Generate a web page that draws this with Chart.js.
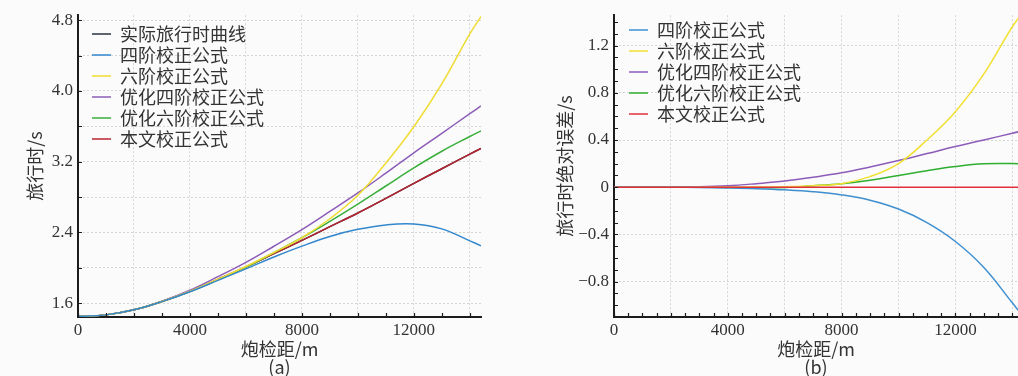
<!DOCTYPE html>
<html>
<head>
<meta charset="utf-8">
<script src="https://cdn.jsdelivr.net/npm/chart.js@4"></script>
<style>
  body { margin: 0; background: #fbfbfb; width: 1018px; height: 376px; overflow: hidden; position: relative; }
  .box { position: absolute; top: 0; height: 376px; }
</style>
</head>
<body>
<div class="box" style="left:0;width:490px"><canvas id="chartA"></canvas></div>
<div class="box" style="left:545px;width:473px"><canvas id="chartB"></canvas></div>
<script>
// offset (m) of the sampled points
const offsets = [0, 1000, 2000, 3000, 4000, 5000, 6000, 7000, 8000, 9000, 10000, 11000, 12000, 13000, 14000, 14400];

// (a) travel time, s
const actualTime    = [1.45, 1.468, 1.525, 1.62, 1.735, 1.87, 2.01, 2.16, 2.31, 2.465, 2.62, 2.785, 2.955, 3.12, 3.285, 3.35];
const fourthTime    = [1.45, 1.468, 1.525, 1.618, 1.729, 1.858, 1.988, 2.122, 2.245, 2.355, 2.435, 2.485, 2.495, 2.44, 2.305, 2.25];
const sixthTime     = [1.45, 1.468, 1.525, 1.62, 1.735, 1.871, 2.015, 2.173, 2.34, 2.555, 2.82, 3.185, 3.595, 4.08, 4.645, 4.84];
const optFourthTime = [1.45, 1.468, 1.525, 1.623, 1.747, 1.90, 2.062, 2.244, 2.432, 2.637, 2.846, 3.07, 3.30, 3.52, 3.743, 3.83];
const optSixthTime  = [1.45, 1.468, 1.525, 1.62, 1.733, 1.866, 2.008, 2.172, 2.34, 2.525, 2.72, 2.925, 3.13, 3.318, 3.485, 3.549];
const thisTime      = [1.45, 1.468, 1.525, 1.62, 1.735, 1.87, 2.01, 2.16, 2.31, 2.465, 2.62, 2.785, 2.955, 3.12, 3.285, 3.35];

// (b) absolute travel time error, s
const fourthErr    = [0, 0, 0, -0.002, -0.006, -0.012, -0.022, -0.038, -0.065, -0.11, -0.185, -0.30, -0.46, -0.68, -0.98, -1.10];
const sixthErr     = [0, 0, 0, 0, 0, 0.001, 0.005, 0.013, 0.03, 0.09, 0.20, 0.40, 0.64, 0.96, 1.36, 1.49];
const optFourthErr = [0, 0, 0, 0.003, 0.012, 0.03, 0.052, 0.084, 0.122, 0.172, 0.226, 0.285, 0.345, 0.40, 0.458, 0.48];
const optSixthErr  = [0, 0, 0, 0, -0.002, -0.004, -0.002, 0.012, 0.03, 0.06, 0.10, 0.14, 0.175, 0.198, 0.20, 0.199];
const thisErr      = [0, 0, 0, 0, 0, 0, 0, 0, 0, 0, 0, 0, 0, 0, 0, 0];

const seriesNames = ['实际旅行时曲线', '四阶校正公式', '六阶校正公式', '优化四阶校正公式', '优化六阶校正公式', '本文校正公式'];
const colorsA = ['#28343f', '#3387cc', '#f0dc32', '#8c5cb8', '#3aae3a', '#b8232f'];
const colorsB = ['#3f8fd0', '#f2e030', '#8c5cb8', '#2fae2f', '#e0303c'];

// ticks
const leftYTicks  = [1.6, 2.0, 2.4, 2.8, 3.2, 3.6, 4.0, 4.4, 4.8];
const leftYLabels = [1.6, 2.4, 3.2, 4.0, 4.8];
const leftYGrid   = [1.6, 2.0, 2.4, 2.8, 3.2, 3.6, 4.0, 4.4, 4.8];
const leftXTicks  = [0, 1000, 2000, 3000, 4000, 5000, 6000, 7000, 8000, 9000, 10000, 11000, 12000, 13000, 14000];
const xLabels     = [0, 4000, 8000, 12000];
const xGrid       = [2000, 4000, 6000, 8000, 10000, 12000, 14000];
const rightXTicks = [0, 500, 1000, 1500, 2000, 2500, 3000, 3500, 4000, 4500, 5000, 5500, 6000, 6500, 7000,
                     7500, 8000, 8500, 9000, 9500, 10000, 10500, 11000, 11500, 12000, 12500, 13000, 13500, 14000];
const rightYTicks = [-1.1, -1.0, -0.9, -0.8, -0.7, -0.6, -0.5, -0.4, -0.3, -0.2, -0.1, 0, 0.1, 0.2, 0.3,
                     0.4, 0.5, 0.6, 0.7, 0.8, 0.9, 1.0, 1.1, 1.2, 1.3, 1.4];
const rightYLabels = [-0.8, -0.4, 0, 0.4, 0.8, 1.2];
const rightYGrid   = [-0.8, -0.4, 0.4, 0.8, 1.2];

const has = (list, v) => list.some(u => Math.abs(u - v) < 1e-6);
const points = ys => offsets.map((x, i) => ({ x: x, y: ys[i] }));
const numFont = { family: '"Liberation Serif", "Times New Roman", serif', size: 17 };
const cjkFont = { family: '"Noto Sans CJK SC", "Liberation Serif", serif', size: 18, lineHeight: 1 };
const fmtY = v => v === 0 ? '0' : v.toFixed(1).replace('-', '\u2212');

function makeScale(o) {
    return {
        type: 'linear',
        min: o.min,
        max: o.max,
        afterBuildTicks: s => { s.ticks = o.ticks.map(v => ({ value: v })); },
        afterFit: s => { if (s.isHorizontal()) s.height = o.size; else s.width = o.size; },
        grid: {
            drawTicks: false,
            lineWidth: 1,
            color: c => (c.tick && has(o.grid, c.tick.value)) ? '#d6d6d6' : 'rgba(0,0,0,0)'
        },
        border: { color: '#1c1c1c', width: 2, dash: [2, 2] },
        ticks: {
            autoSkip: false,
            maxRotation: 0,
            padding: o.tickPad,
            color: '#333',
            font: numFont,
            callback: v => has(o.labels, v) ? o.fmt(v) : ''
        },
        title: { display: true, text: o.title, color: '#333', font: cjkFont, padding: o.titlePad }
    };
}

// tick marks pointing into the plot
const innerTicks = {
    id: 'innerTicks',
    afterDraw(chart) {
        const ctx = chart.ctx;
        const x = chart.scales.x, y = chart.scales.y;
        ctx.save();
        ctx.strokeStyle = '#1c1c1c';
        ctx.lineWidth = 1.2;
        ctx.beginPath();
        x.ticks.forEach(t => {
            const px = Math.round(x.getPixelForValue(t.value)) + 0.5;
            ctx.moveTo(px, x.top);
            ctx.lineTo(px, x.top - 4);
        });
        y.ticks.forEach(t => {
            const py = Math.round(y.getPixelForValue(t.value)) + 0.5;
            ctx.moveTo(y.right, py);
            ctx.lineTo(y.right + 4, py);
        });
        ctx.stroke();
        ctx.restore();
    }
};

const legendShift = (dx, dy) => ({
    id: 'legendShift',
    afterLayout(chart) {
        chart.legend.left += dx;
        chart.legend.top += dy;
    }
});

function legendOpts() {
    return {
        position: 'chartArea',
        align: 'start',
        labels: {
            usePointStyle: true,
            pointStyle: 'line',
            pointStyleWidth: 19,
            padding: 3,
            color: '#333',
            font: cjkFont,
            sort: (a, b) => a.datasetIndex - b.datasetIndex
        }
    };
}

const leftSeries = [actualTime, fourthTime, sixthTime, optFourthTime, optSixthTime, thisTime];
new Chart(document.getElementById('chartA'), {
    type: 'line',
    data: {
        datasets: leftSeries.map((ys, i) => ({
            label: seriesNames[i],
            data: points(ys),
            borderColor: colorsA[i],
            borderWidth: 1.5,
            pointRadius: 0,
            tension: 0.4,
            order: i === 0 ? 1 : 0
        }))
    },
    options: {
        responsive: true,
        maintainAspectRatio: false,
        animation: false,
        layout: { padding: { top: 10, right: 9, left: 0, bottom: 0 } },
        scales: {
            x: makeScale({ min: 0, max: 14400, ticks: leftXTicks, labels: xLabels, grid: xGrid, fmt: v => String(v),
                           size: 59, tickPad: 3, title: ['炮检距/m', '(a)'], titlePad: { top: 0, bottom: 0 } }),
            y: makeScale({ min: 1.444, max: 4.856, ticks: leftYTicks, labels: leftYLabels, grid: leftYGrid, fmt: fmtY,
                           size: 78, tickPad: 5, title: '旅行时/s', titlePad: { top: 26, bottom: 0 } })
        },
        plugins: {
            legend: legendOpts(),
            tooltip: { enabled: false }
        }
    },
    plugins: [innerTicks, legendShift(11, 22)]
});

const rightSeries = [fourthErr, sixthErr, optFourthErr, optSixthErr, thisErr];
new Chart(document.getElementById('chartB'), {
    type: 'line',
    data: {
        datasets: rightSeries.map((ys, i) => ({
            label: seriesNames[i + 1],
            data: points(ys),
            borderColor: colorsB[i],
            borderWidth: 1.5,
            pointRadius: 0,
            tension: 0.4,
            order: i === 4 ? -1 : 0
        }))
    },
    options: {
        responsive: true,
        maintainAspectRatio: false,
        animation: false,
        layout: { padding: { top: 10, right: 0, left: 0, bottom: 0 } },
        scales: {
            x: makeScale({ min: 0, max: 14200, ticks: rightXTicks, labels: xLabels, grid: xGrid, fmt: v => String(v),
                           size: 59, tickPad: 3, title: ['炮检距/m', '(b)'], titlePad: { top: 0, bottom: 0 } }),
            y: makeScale({ min: -1.1, max: 1.458, ticks: rightYTicks, labels: rightYLabels, grid: rightYGrid, fmt: fmtY,
                           size: 69, tickPad: 5, title: '旅行时绝对误差/s', titlePad: { top: 11, bottom: 0 } })
        },
        plugins: {
            legend: legendOpts(),
            tooltip: { enabled: false }
        }
    },
    plugins: [innerTicks, legendShift(12, 18)]
});
</script>
</body>
</html>
